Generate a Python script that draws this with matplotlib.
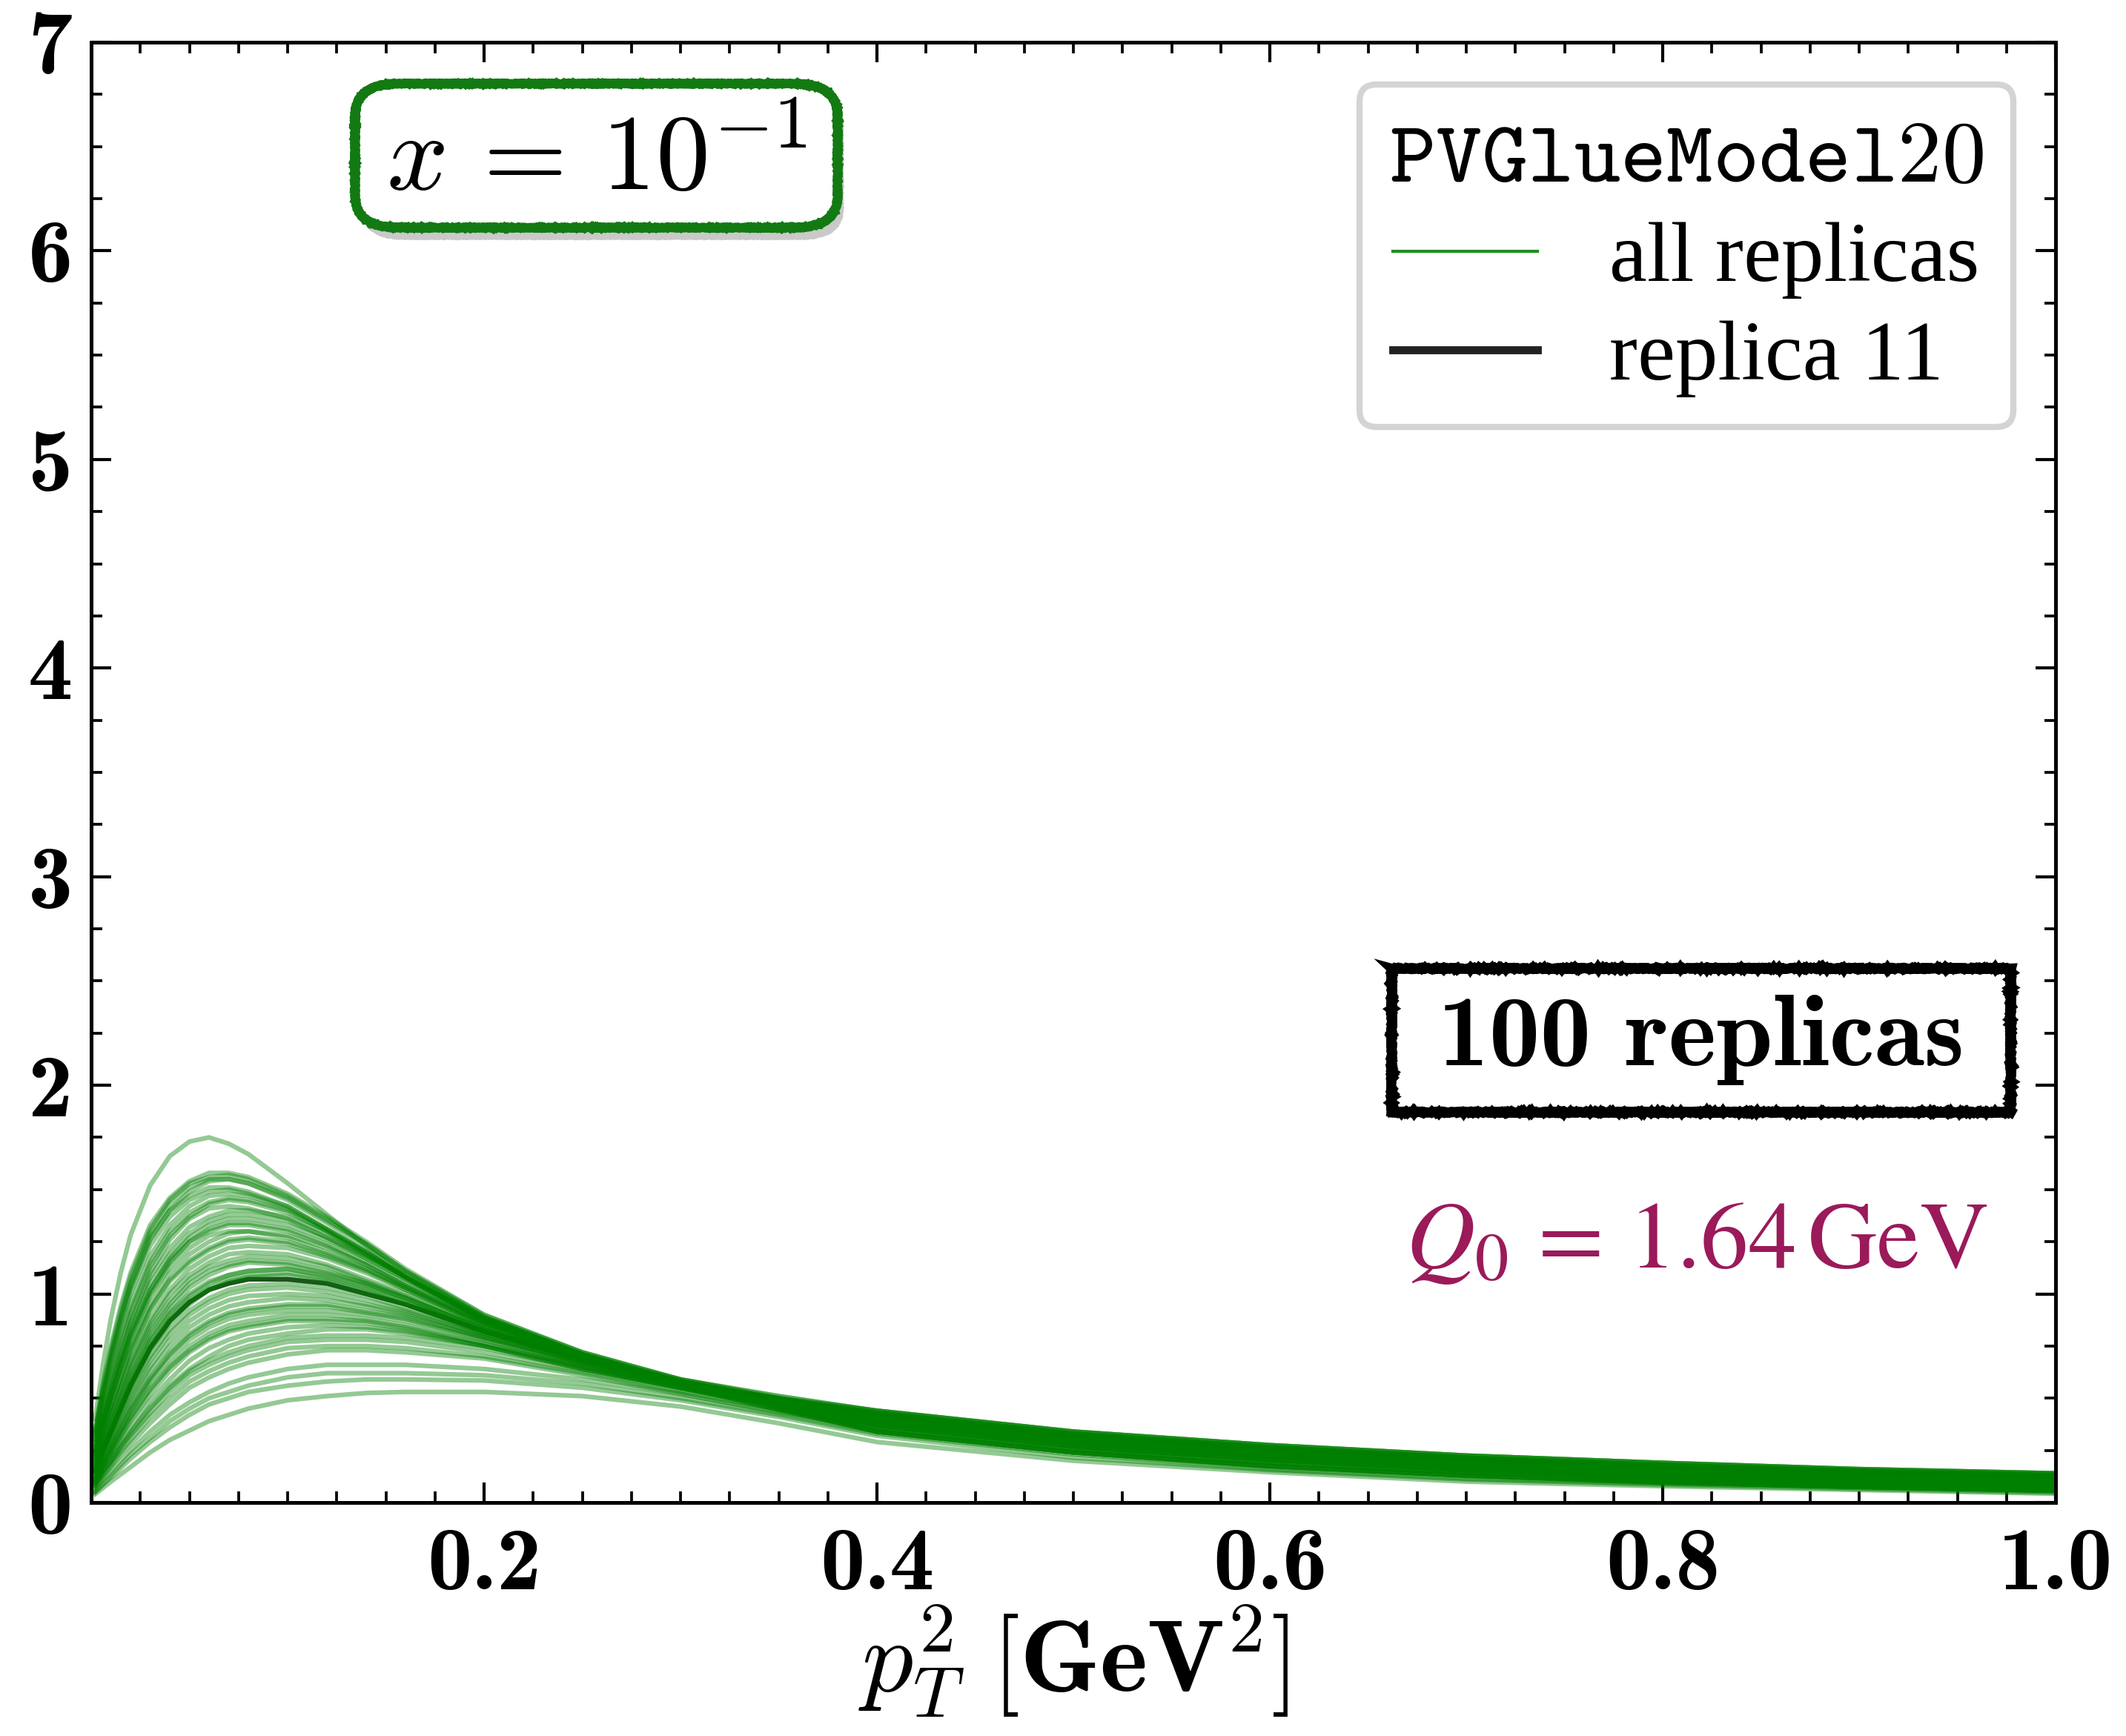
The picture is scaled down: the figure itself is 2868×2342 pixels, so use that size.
import numpy as np
import matplotlib as mpl
mpl.use('Agg')
import matplotlib.pyplot as plt
from matplotlib.lines import Line2D
from matplotlib.patches import FancyBboxPatch
from matplotlib.ticker import MultipleLocator, FixedLocator, FixedFormatter
import matplotlib.patheffects as pe

plt.rcParams['mathtext.fontset'] = 'cm'

pt2 = [0.002, 0.006, 0.01, 0.015, 0.02, 0.03, 0.04, 0.05, 0.06, 0.07, 0.08, 0.1, 0.12,
       0.14, 0.16, 0.2, 0.25, 0.3, 0.35, 0.4, 0.5, 0.6, 0.7, 0.8, 0.9, 1.0]

# outlier with the highest peak
rep_a = [0.40, 0.66, 0.88, 1.10, 1.28, 1.52, 1.66, 1.73, 1.75, 1.72, 1.67, 1.53, 1.38, 1.23, 1.08, 0.87, 0.70, 0.59, 0.51, 0.44, 0.34, 0.275, 0.225, 0.19, 0.16, 0.14]
# upper bulk
rep_u1 = [0.35, 0.57, 0.75, 0.94, 1.10, 1.33, 1.46, 1.54, 1.58, 1.58, 1.56, 1.48, 1.37, 1.25, 1.12, 0.90, 0.72, 0.59, 0.50, 0.43, 0.33, 0.265, 0.215, 0.18, 0.152, 0.132]
rep_u2 = [0.30, 0.51, 0.68, 0.86, 1.02, 1.26, 1.40, 1.49, 1.54, 1.55, 1.53, 1.46, 1.35, 1.24, 1.11, 0.89, 0.71, 0.58, 0.485, 0.40, 0.30, 0.235, 0.185, 0.15, 0.124, 0.103]
rep_u3 = [0.33, 0.53, 0.70, 0.88, 1.04, 1.27, 1.40, 1.47, 1.51, 1.51, 1.49, 1.42, 1.31, 1.20, 1.08, 0.87, 0.70, 0.57, 0.465, 0.37, 0.27, 0.205, 0.155, 0.12, 0.095, 0.075]
rep_u4 = [0.28, 0.46, 0.62, 0.80, 0.95, 1.18, 1.33, 1.42, 1.47, 1.48, 1.47, 1.41, 1.31, 1.20, 1.08, 0.88, 0.71, 0.58, 0.495, 0.42, 0.32, 0.255, 0.205, 0.17, 0.143, 0.122]
rep_u5 = [0.26, 0.43, 0.58, 0.75, 0.90, 1.13, 1.28, 1.37, 1.43, 1.45, 1.44, 1.39, 1.30, 1.19, 1.08, 0.88, 0.71, 0.58, 0.48, 0.39, 0.29, 0.225, 0.175, 0.14, 0.114, 0.094]
rep_u6 = [0.32, 0.53, 0.71, 0.89, 1.05, 1.29, 1.43, 1.51, 1.55, 1.55, 1.53, 1.45, 1.34, 1.22, 1.10, 0.89, 0.71, 0.58, 0.46, 0.355, 0.255, 0.19, 0.142, 0.108, 0.085, 0.066]
rep_u7 = [0.34, 0.55, 0.73, 0.92, 1.08, 1.31, 1.45, 1.53, 1.56, 1.57, 1.55, 1.47, 1.36, 1.24, 1.11, 0.90, 0.72, 0.59, 0.50, 0.41, 0.31, 0.245, 0.195, 0.16, 0.134, 0.113]
rep_u8 = [0.30, 0.50, 0.66, 0.84, 1.00, 1.23, 1.37, 1.45, 1.49, 1.50, 1.48, 1.42, 1.31, 1.20, 1.08, 0.88, 0.70, 0.58, 0.47, 0.38, 0.28, 0.215, 0.165, 0.13, 0.104, 0.084]
rep_u9 = [0.27, 0.45, 0.60, 0.77, 0.92, 1.15, 1.30, 1.39, 1.44, 1.46, 1.45, 1.40, 1.30, 1.19, 1.08, 0.88, 0.71, 0.58, 0.455, 0.34, 0.24, 0.175, 0.13, 0.097, 0.075, 0.057]
# mid-high
rep_m1 = [0.25, 0.41, 0.55, 0.71, 0.86, 1.08, 1.22, 1.32, 1.37, 1.40, 1.40, 1.37, 1.29, 1.19, 1.09, 0.89, 0.72, 0.59, 0.51, 0.44, 0.34, 0.275, 0.225, 0.19, 0.16, 0.14]
rep_m2 = [0.22, 0.37, 0.50, 0.66, 0.80, 1.02, 1.17, 1.27, 1.33, 1.36, 1.36, 1.33, 1.26, 1.17, 1.07, 0.88, 0.71, 0.58, 0.49, 0.41, 0.31, 0.245, 0.195, 0.16, 0.134, 0.113]
rep_m3 = [0.24, 0.39, 0.52, 0.67, 0.81, 1.02, 1.16, 1.25, 1.30, 1.33, 1.33, 1.30, 1.23, 1.14, 1.04, 0.86, 0.70, 0.57, 0.47, 0.38, 0.28, 0.215, 0.165, 0.13, 0.104, 0.084]
rep_m4 = [0.20, 0.34, 0.46, 0.60, 0.74, 0.95, 1.10, 1.19, 1.25, 1.29, 1.30, 1.28, 1.22, 1.14, 1.04, 0.86, 0.70, 0.58, 0.455, 0.34, 0.24, 0.175, 0.13, 0.097, 0.075, 0.057]
rep_m5 = [0.21, 0.34, 0.46, 0.60, 0.73, 0.93, 1.07, 1.16, 1.22, 1.26, 1.27, 1.25, 1.19, 1.12, 1.03, 0.85, 0.69, 0.57, 0.495, 0.43, 0.33, 0.265, 0.215, 0.18, 0.152, 0.132]
rep_m6 = [0.18, 0.31, 0.42, 0.55, 0.68, 0.88, 1.02, 1.12, 1.18, 1.22, 1.23, 1.22, 1.17, 1.10, 1.02, 0.85, 0.70, 0.58, 0.485, 0.40, 0.30, 0.235, 0.185, 0.15, 0.124, 0.103]
rep_m7 = [0.24, 0.40, 0.54, 0.71, 0.86, 1.10, 1.26, 1.36, 1.41, 1.42, 1.41, 1.36, 1.27, 1.17, 1.07, 0.87, 0.70, 0.58, 0.47, 0.37, 0.27, 0.205, 0.155, 0.12, 0.095, 0.075]
rep_m8 = [0.23, 0.37, 0.50, 0.65, 0.78, 0.99, 1.13, 1.22, 1.28, 1.30, 1.30, 1.27, 1.20, 1.12, 1.03, 0.86, 0.70, 0.58, 0.495, 0.42, 0.32, 0.255, 0.205, 0.17, 0.143, 0.122]
rep_m9 = [0.23, 0.39, 0.52, 0.68, 0.83, 1.05, 1.19, 1.29, 1.35, 1.38, 1.38, 1.35, 1.27, 1.18, 1.08, 0.88, 0.71, 0.58, 0.48, 0.39, 0.29, 0.225, 0.175, 0.14, 0.114, 0.094]
rep_m10 = [0.22, 0.37, 0.50, 0.65, 0.79, 1.00, 1.15, 1.25, 1.31, 1.34, 1.34, 1.31, 1.24, 1.15, 1.05, 0.87, 0.70, 0.58, 0.46, 0.355, 0.255, 0.19, 0.142, 0.108, 0.085, 0.066]
rep_m11 = [0.20, 0.33, 0.45, 0.59, 0.72, 0.92, 1.06, 1.15, 1.21, 1.25, 1.26, 1.24, 1.18, 1.11, 1.02, 0.85, 0.69, 0.57, 0.495, 0.43, 0.33, 0.265, 0.215, 0.18, 0.152, 0.132]
# middle
rep_n1 = [0.18, 0.30, 0.40, 0.53, 0.65, 0.84, 0.97, 1.07, 1.13, 1.16, 1.18, 1.17, 1.13, 1.06, 0.99, 0.83, 0.68, 0.57, 0.475, 0.39, 0.29, 0.225, 0.175, 0.14, 0.114, 0.094]
rep_n2 = [0.16, 0.27, 0.37, 0.49, 0.61, 0.80, 0.93, 1.03, 1.09, 1.13, 1.15, 1.14, 1.10, 1.05, 0.98, 0.83, 0.69, 0.57, 0.46, 0.355, 0.255, 0.19, 0.142, 0.108, 0.085, 0.066]
rep_n3 = [0.17, 0.28, 0.37, 0.49, 0.60, 0.78, 0.91, 1.00, 1.06, 1.09, 1.11, 1.12, 1.08, 1.03, 0.96, 0.82, 0.68, 0.57, 0.485, 0.41, 0.31, 0.245, 0.195, 0.16, 0.134, 0.113]
rep_n4 = [0.14, 0.24, 0.33, 0.44, 0.55, 0.73, 0.86, 0.95, 1.02, 1.06, 1.08, 1.09, 1.06, 1.01, 0.95, 0.81, 0.68, 0.57, 0.47, 0.38, 0.28, 0.215, 0.165, 0.13, 0.104, 0.084]
rep_n5 = [0.13, 0.22, 0.30, 0.41, 0.51, 0.68, 0.81, 0.90, 0.96, 1.00, 1.02, 1.03, 1.01, 0.97, 0.92, 0.80, 0.67, 0.56, 0.445, 0.34, 0.24, 0.175, 0.13, 0.097, 0.075, 0.057]
rep_n6 = [0.19, 0.31, 0.42, 0.55, 0.67, 0.86, 1.00, 1.09, 1.15, 1.19, 1.20, 1.19, 1.14, 1.07, 1.00, 0.84, 0.69, 0.57, 0.50, 0.44, 0.34, 0.275, 0.225, 0.19, 0.16, 0.14]
rep_n7 = [0.15, 0.26, 0.35, 0.47, 0.58, 0.77, 0.90, 0.99, 1.05, 1.09, 1.11, 1.12, 1.09, 1.04, 0.98, 0.83, 0.69, 0.58, 0.485, 0.40, 0.30, 0.235, 0.185, 0.15, 0.124, 0.103]
rep_n8 = [0.17, 0.28, 0.39, 0.51, 0.63, 0.82, 0.95, 1.05, 1.11, 1.14, 1.16, 1.15, 1.11, 1.05, 0.98, 0.83, 0.68, 0.57, 0.465, 0.37, 0.27, 0.205, 0.155, 0.12, 0.095, 0.075]
rep_n9 = [0.15, 0.25, 0.34, 0.46, 0.57, 0.75, 0.88, 0.97, 1.03, 1.07, 1.09, 1.10, 1.07, 1.02, 0.96, 0.82, 0.68, 0.57, 0.50, 0.44, 0.34, 0.275, 0.225, 0.19, 0.16, 0.14]
rep_n10 = [0.14, 0.23, 0.32, 0.43, 0.53, 0.70, 0.83, 0.92, 0.98, 1.02, 1.04, 1.05, 1.03, 0.99, 0.93, 0.81, 0.68, 0.57, 0.485, 0.40, 0.30, 0.235, 0.185, 0.15, 0.124, 0.103]
# lower-middle
rep_l1 = [0.12, 0.20, 0.28, 0.38, 0.47, 0.63, 0.75, 0.84, 0.90, 0.94, 0.96, 0.98, 0.97, 0.94, 0.90, 0.79, 0.67, 0.56, 0.46, 0.37, 0.27, 0.205, 0.155, 0.12, 0.095, 0.075]
rep_l2 = [0.11, 0.19, 0.26, 0.35, 0.44, 0.59, 0.71, 0.80, 0.86, 0.90, 0.92, 0.94, 0.94, 0.91, 0.88, 0.78, 0.66, 0.56, 0.49, 0.43, 0.33, 0.265, 0.215, 0.18, 0.152, 0.132]
rep_l3 = [0.10, 0.17, 0.24, 0.33, 0.41, 0.55, 0.66, 0.75, 0.81, 0.85, 0.87, 0.90, 0.90, 0.88, 0.85, 0.76, 0.65, 0.55, 0.465, 0.39, 0.29, 0.225, 0.175, 0.14, 0.114, 0.094]
rep_l4 = [0.10, 0.17, 0.23, 0.31, 0.39, 0.52, 0.63, 0.72, 0.78, 0.82, 0.84, 0.87, 0.87, 0.86, 0.83, 0.75, 0.64, 0.55, 0.45, 0.355, 0.255, 0.19, 0.142, 0.108, 0.085, 0.066]
rep_l5 = [0.09, 0.15, 0.21, 0.29, 0.36, 0.49, 0.59, 0.68, 0.74, 0.78, 0.81, 0.84, 0.85, 0.84, 0.82, 0.75, 0.64, 0.55, 0.475, 0.41, 0.31, 0.245, 0.195, 0.16, 0.134, 0.113]
rep_l6 = [0.12, 0.21, 0.29, 0.39, 0.49, 0.65, 0.78, 0.87, 0.93, 0.97, 0.99, 1.00, 0.99, 0.95, 0.91, 0.80, 0.67, 0.57, 0.47, 0.38, 0.28, 0.215, 0.165, 0.13, 0.104, 0.084]
rep_l7 = [0.11, 0.18, 0.25, 0.34, 0.43, 0.58, 0.69, 0.78, 0.84, 0.88, 0.90, 0.92, 0.92, 0.90, 0.87, 0.78, 0.66, 0.56, 0.445, 0.34, 0.24, 0.175, 0.13, 0.097, 0.075, 0.057]
rep_l8 = [0.11, 0.19, 0.27, 0.36, 0.45, 0.60, 0.72, 0.81, 0.87, 0.91, 0.93, 0.95, 0.95, 0.92, 0.89, 0.79, 0.67, 0.56, 0.49, 0.42, 0.32, 0.255, 0.205, 0.17, 0.143, 0.122]
rep_l9 = [0.10, 0.17, 0.24, 0.32, 0.40, 0.54, 0.65, 0.73, 0.79, 0.83, 0.85, 0.88, 0.88, 0.87, 0.84, 0.76, 0.65, 0.55, 0.445, 0.34, 0.24, 0.175, 0.13, 0.097, 0.075, 0.057]
# low
rep_w1 = [0.08, 0.14, 0.19, 0.26, 0.32, 0.43, 0.53, 0.61, 0.66, 0.70, 0.73, 0.77, 0.78, 0.78, 0.77, 0.72, 0.63, 0.54, 0.465, 0.40, 0.30, 0.235, 0.185, 0.15, 0.124, 0.103]
rep_w2 = [0.08, 0.13, 0.18, 0.24, 0.30, 0.41, 0.50, 0.58, 0.63, 0.67, 0.70, 0.74, 0.75, 0.75, 0.74, 0.70, 0.62, 0.53, 0.445, 0.37, 0.27, 0.205, 0.155, 0.12, 0.095, 0.075]
rep_w3 = [0.07, 0.12, 0.17, 0.23, 0.28, 0.38, 0.47, 0.55, 0.60, 0.64, 0.67, 0.71, 0.73, 0.73, 0.72, 0.69, 0.61, 0.52, 0.435, 0.355, 0.255, 0.19, 0.142, 0.108, 0.085, 0.066]
rep_w4 = [0.09, 0.15, 0.20, 0.27, 0.34, 0.46, 0.56, 0.64, 0.70, 0.75, 0.78, 0.81, 0.83, 0.83, 0.81, 0.75, 0.65, 0.55, 0.465, 0.39, 0.29, 0.225, 0.175, 0.14, 0.114, 0.094]
rep_w5 = [0.09, 0.15, 0.20, 0.27, 0.33, 0.45, 0.55, 0.63, 0.68, 0.72, 0.75, 0.79, 0.80, 0.80, 0.79, 0.74, 0.64, 0.55, 0.465, 0.38, 0.28, 0.215, 0.165, 0.13, 0.104, 0.084]
# flat ones
rep_f1 = [0.06, 0.11, 0.15, 0.20, 0.25, 0.34, 0.42, 0.48, 0.53, 0.57, 0.60, 0.64, 0.66, 0.66, 0.66, 0.64, 0.59, 0.52, 0.43, 0.34, 0.24, 0.17, 0.125, 0.095, 0.075, 0.058]
rep_f2 = [0.05, 0.09, 0.13, 0.18, 0.23, 0.31, 0.39, 0.45, 0.50, 0.53, 0.56, 0.60, 0.62, 0.62, 0.62, 0.61, 0.57, 0.50, 0.42, 0.33, 0.23, 0.16, 0.115, 0.09, 0.07, 0.052]
rep_f3 = [0.05, 0.085, 0.12, 0.165, 0.21, 0.29, 0.36, 0.42, 0.47, 0.50, 0.53, 0.56, 0.58, 0.59, 0.59, 0.585, 0.55, 0.49, 0.41, 0.32, 0.215, 0.155, 0.11, 0.085, 0.065, 0.047]
rep_f4 = [0.04, 0.07, 0.10, 0.135, 0.17, 0.24, 0.30, 0.345, 0.39, 0.42, 0.45, 0.49, 0.51, 0.525, 0.53, 0.53, 0.51, 0.46, 0.38, 0.29, 0.20, 0.145, 0.10, 0.078, 0.06, 0.042]
# replica 11 (highlighted)
rep_11 = [0.15, 0.25, 0.34, 0.45, 0.56, 0.74, 0.87, 0.96, 1.02, 1.05, 1.07, 1.07, 1.05, 1.00, 0.95, 0.82, 0.69, 0.58, 0.495, 0.42, 0.32, 0.255, 0.205, 0.17, 0.143, 0.122]

replicas = [rep_a, rep_u1, rep_u2, rep_u3, rep_u4, rep_u5, rep_u6, rep_u7, rep_u8, rep_u9,
            rep_m1, rep_m2, rep_m3, rep_m4, rep_m5, rep_m6, rep_m7, rep_m8, rep_m9, rep_m10, rep_m11,
            rep_n1, rep_n2, rep_n3, rep_n4, rep_n5, rep_n6, rep_n7, rep_n8, rep_n9, rep_n10, rep_11,
            rep_l1, rep_l2, rep_l3, rep_l4, rep_l5, rep_l6, rep_l7, rep_l8, rep_l9,
            rep_w1, rep_w2, rep_w3, rep_w4, rep_w5,
            rep_f1, rep_f2, rep_f3, rep_f4]

xticks = [0.2, 0.4, 0.6, 0.8, 1.0]
xticklabels = ['0.2', '0.4', '0.6', '0.8', '1.0']
yticks = [0, 1, 2, 3, 4, 5, 6, 7]

fig = plt.figure(figsize=(9.56, 7.8067), dpi=300)
ax = fig.add_axes([0.0429, 0.1345, 0.924, 0.8412])

ax.plot(pt2, rep_11, color='black', lw=1.5, alpha=0.8, zorder=1)
for rep in replicas:
    ax.plot(pt2, rep, color='green', alpha=0.42, lw=1.5, zorder=2)

ax.set_xlim(0, 1.0)
ax.set_ylim(0, 7)

ax.xaxis.set_major_locator(FixedLocator(xticks))
ax.xaxis.set_major_formatter(FixedFormatter(xticklabels))
ax.xaxis.set_minor_locator(MultipleLocator(0.025))
ax.yaxis.set_major_locator(FixedLocator(yticks))
ax.yaxis.set_major_formatter(FixedFormatter([str(t) for t in yticks]))
ax.yaxis.set_minor_locator(MultipleLocator(0.25))

ax.tick_params(which='both', direction='in', top=True, right=True)
ax.tick_params(which='major', length=6.5, width=1.0, labelsize=29, labelfontfamily='cmb10')
ax.tick_params(axis='x', which='major', pad=8)
ax.tick_params(axis='y', which='major', pad=6)
ax.tick_params(which='minor', length=3.5, width=0.9)
for s in ax.spines.values():
    s.set_linewidth(1.2)

ax.set_xlabel(r'$p_T^2\ \mathbf{[GeV}^{2}\mathbf{]}$', fontsize=33, labelpad=-1)

handles = [Line2D([], [], color='#1f8f1f', lw=1.0),
           Line2D([], [], color='#222222', lw=2.6)]
leg = ax.legend(handles, ['all replicas', 'replica 11'],
                title=r'$\mathtt{PVGlueModel20}$', title_fontsize=28.5,
                prop={'family': 'Liberation Serif', 'size': 27.5},
                loc='upper right', fancybox=True, framealpha=1,
                edgecolor='#d4d4d4', handlelength=1.7, handletextpad=0.85,
                labelspacing=0.25, borderpad=0.35, borderaxespad=0.5)
leg.get_frame().set_linewidth(2.0)

# x = 10^-1 label in a rounded green box with a soft shadow
xbox = FancyBboxPatch((0.1343, 0.873), 0.2457, 0.0986,
                      boxstyle='round,pad=0,rounding_size=0.022',
                      transform=ax.transAxes, fc='white', ec='#137a13', lw=3.0, zorder=5)
xbox.set_sketch_params(scale=0.5, length=2, randomness=6)
xbox.set_path_effects([pe.SimplePatchShadow(offset=(2, -4), shadow_rgbFace='#666666', alpha=0.35),
                       pe.Normal()])
ax.add_patch(xbox)
ax.text(0.257, 0.920, r'$x\, =\, 10^{-1}$', transform=ax.transAxes,
        fontsize=35, ha='center', va='center', zorder=6)

# 100 replicas in a rough black frame
bx = [0.662, 0.977, 0.977, 0.662, 0.662]
by = [0.2675, 0.2675, 0.366, 0.366, 0.2675]
frame, = ax.plot(bx, by, transform=ax.transAxes, color='black', lw=3.2, zorder=5,
                 solid_joinstyle='miter', clip_on=False)
frame.set_sketch_params(scale=0.8, length=3, randomness=8)
frame2, = ax.plot(bx, by, transform=ax.transAxes, color='black', lw=0.8, zorder=5,
                  alpha=0.6, clip_on=False)
frame2.set_sketch_params(scale=2.5, length=4, randomness=12)
ax.text(0.8194, 0.3168, '100 replicas', transform=ax.transAxes,
        fontsize=33, ha='center', va='center', zorder=6, family='cmb10')

ax.text(0.817, 0.179, r'$Q_0\, =\, 1.64\,\mathrm{GeV}$', transform=ax.transAxes,
        fontsize=31, ha='center', va='center', color='#9a1a5a',
        math_fontfamily='stix')

plt.savefig('out.png', dpi=300)
